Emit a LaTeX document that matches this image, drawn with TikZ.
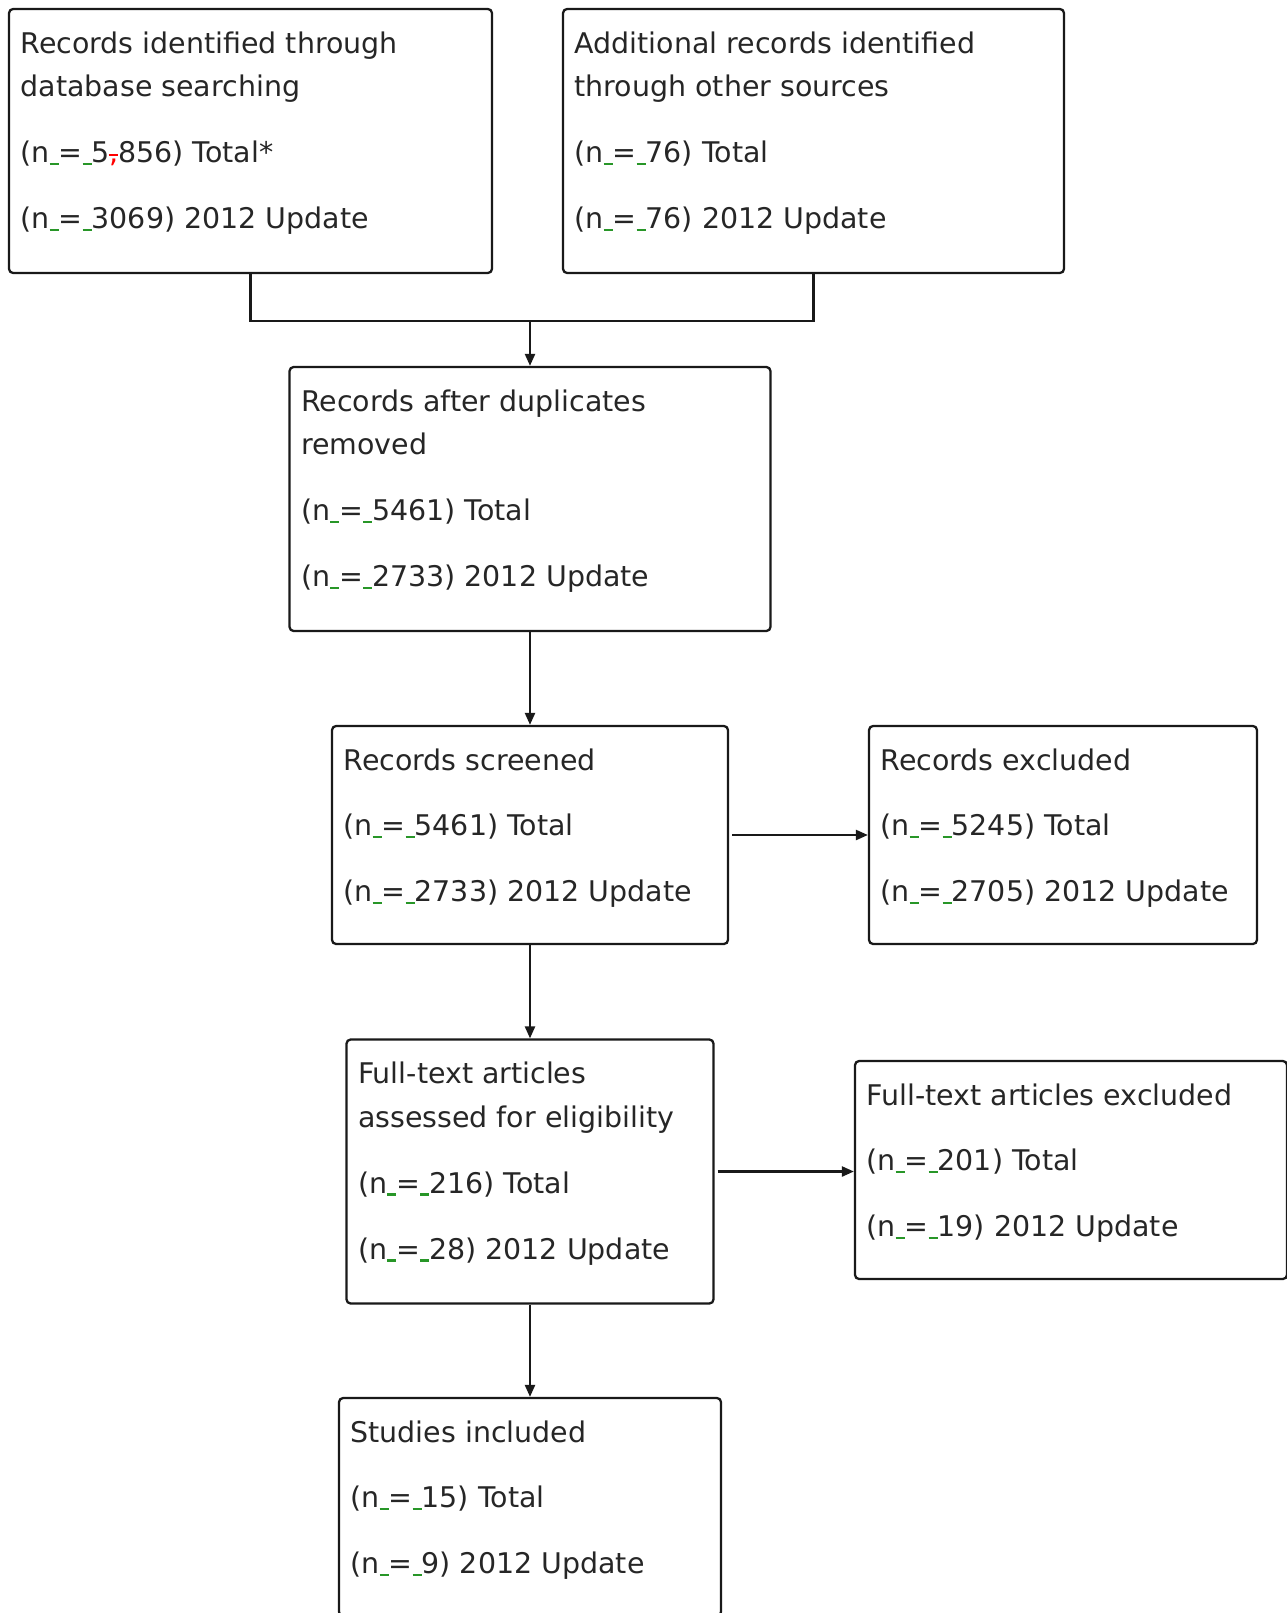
\documentclass[tikz,border=0pt]{standalone}
\usepackage{fontspec}
\setmainfont{DejaVu Sans}
\usetikzlibrary{arrows.meta,positioning}
\definecolor{spellgreen}{RGB}{40,150,40}
% green squiggle under a space, red struck-out comma
\newcommand{\gsp}{\makebox[0.32em][l]{\textcolor{spellgreen}{\rule[-0.08em]{0.32em}{0.08em}}}}
\newcommand{\redcomma}{\textcolor{red}{\makebox[0.3em][c]{,}\llap{\rule[0.25em]{0.34em}{0.06em}}}}
\newcommand{\boxtext}[3]{\parbox[c][#2][t]{#1}{\leftskip=0.23cm\rule{0pt}{0.88cm}#3}}

\begin{document}
\begin{tikzpicture}[x=0.02cm,y=-0.02cm,
  flowbox/.style={draw=black!90, line width=1.3pt, rounded corners=0.08cm, inner sep=0pt,
    text=black!85, font=\fontsize{16.2}{25}\selectfont},
  conn/.style={line width=1.3pt, draw=black!90},
  >={Triangle[length=0.24cm,width=0.2cm]}]
\useasboundingbox (0,0) rectangle (1287,1613);

\node[flowbox] (dbsearch) at (250.5,141) {\boxtext{9.66cm}{5.28cm}{Records identified through\\ database searching\\[0.44cm] (n\gsp=\gsp5\redcomma856) Total*\\[0.44cm] (n\gsp=\gsp3069) 2012 Update}};
\node[flowbox] (othersrc) at (813.5,141) {\boxtext{10.02cm}{5.28cm}{Additional records identified\\ through other sources\\[0.44cm] (n\gsp=\gsp76) Total\\[0.44cm] (n\gsp=\gsp76) 2012 Update}};
\node[flowbox] (dedup) at (530,499) {\boxtext{9.62cm}{5.28cm}{Records after duplicates\\ removed\\[0.44cm] (n\gsp=\gsp5461) Total\\[0.44cm] (n\gsp=\gsp2733) 2012 Update}};
\node[flowbox] (screened) at (530,835) {\boxtext{7.92cm}{4.36cm}{Records screened\\[0.44cm] (n\gsp=\gsp5461) Total\\[0.44cm] (n\gsp=\gsp2733) 2012 Update}};
\node[flowbox] (excluded) at (1063,835) {\boxtext{7.76cm}{4.36cm}{Records excluded\\[0.44cm] (n\gsp=\gsp5245) Total\\[0.44cm] (n\gsp=\gsp2705) 2012 Update}};
\node[flowbox] (fulltext) at (530,1171.5) {\boxtext{7.34cm}{5.28cm}{Full-text articles\\ assessed for eligibility\\[0.44cm] (n\gsp=\gsp216) Total\\[0.44cm] (n\gsp=\gsp28) 2012 Update}};
\node[flowbox] (ftexcl) at (1071,1170) {\boxtext{8.64cm}{4.36cm}{Full-text articles excluded\\[0.44cm] (n\gsp=\gsp201) Total\\[0.44cm] (n\gsp=\gsp19) 2012 Update}};
\node[flowbox] (included) at (530,1507) {\boxtext{7.64cm}{4.36cm}{Studies included\\[0.44cm] (n\gsp=\gsp15) Total\\[0.44cm] (n\gsp=\gsp9) 2012 Update}};

\coordinate (merge) at (530,321);
\draw[conn] (dbsearch.south) |- (merge) -| (othersrc.south);
\draw[conn,->] (merge) -- (dedup.north);
\draw[conn,->] (dedup.south) -- (screened.north);
\draw[conn,->] ([xshift=0.06cm]screened.east) -- (excluded.west);
\draw[conn,->] (screened.south) -- (fulltext.north);
\draw[conn,->] ([xshift=0.06cm]fulltext.east) -- (fulltext.east -| ftexcl.west);
\draw[conn,->] (fulltext.south) -- (included.north);
\end{tikzpicture}
\end{document}
